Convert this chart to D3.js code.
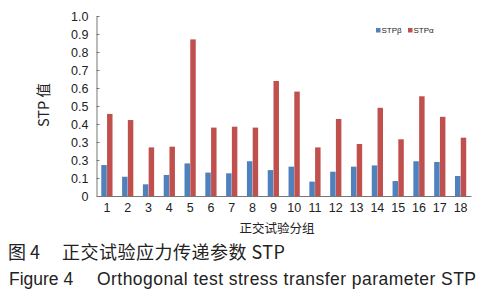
<!DOCTYPE html>
<html>
<head>
<meta charset="utf-8">
<script src="https://cdn.jsdelivr.net/npm/d3@7"></script>
<style>
  body { margin: 0; background: #fff; }
  svg text { font-family: "Liberation Sans", Arial, sans-serif; fill: #222; }
  .cjk { font-family: "Noto Sans CJK SC", sans-serif; }
</style>
</head>
<body>
<svg id="chart" width="500" height="300"></svg>
<script>
const groups = ["1","2","3","4","5","6","7","8","9","10","11","12","13","14","15","16","17","18"];
const stpBeta  = [0.172,0.107,0.065,0.117,0.181,0.130,0.126,0.193,0.144,0.163,0.080,0.135,0.163,0.170,0.083,0.193,0.189,0.111];
const stpAlpha = [0.456,0.422,0.270,0.274,0.870,0.380,0.385,0.380,0.639,0.580,0.270,0.428,0.289,0.490,0.315,0.554,0.440,0.324];
const yTicks = [0,0.1,0.2,0.3,0.4,0.5,0.6,0.7,0.8,0.9,1.0];
// the original figure prints "0.3" at the 0.2 position
const yTickLabels = ["0","0.1","0.3","0.3","0.4","0.5","0.6","0.7","0.8","0.9","1.0"];
const seriesNames = ["STPβ","STPα"];
const colors = { "STPβ": "#4f81bd", "STPα": "#c0504d" };

const svg = d3.select("#chart");
const mLeft = 96.5, mRight = 471, mTop = 16, mBottom = 196;

const x = d3.scaleBand().domain(groups).range([mLeft, mRight]).paddingInner(0).paddingOuter(0);
const x1 = d3.scaleBand().domain(seriesNames).range([4.5, x.bandwidth() - 4.5]).padding(0.05);
const y = d3.scaleLinear().domain([0, 1]).range([mBottom, mTop]);

const data = groups.map((g, i) => ({ group: g, "STPβ": stpBeta[i], "STPα": stpAlpha[i] }));

// bars
svg.append("g")
  .selectAll("g")
  .data(data)
  .join("g")
  .attr("transform", d => `translate(${x(d.group)},0)`)
  .selectAll("rect")
  .data(d => seriesNames.map(k => ({ key: k, value: d[k] })))
  .join("rect")
  .attr("x", d => x1(d.key))
  .attr("width", x1.bandwidth())
  .attr("y", d => y(d.value))
  .attr("height", d => y(0) - y(d.value))
  .attr("fill", d => colors[d.key]);

// y axis, ticks point inward like the original
const yAxis = d3.axisLeft(y)
  .tickValues(yTicks)
  .tickSizeInner(-3)
  .tickSizeOuter(0)
  .tickPadding(8)
  .tickFormat((d, i) => yTickLabels[i]);
const gy = svg.append("g").attr("transform", `translate(${mLeft},0)`).call(yAxis);
gy.select(".domain").attr("stroke", "#777");
gy.selectAll(".tick line").attr("stroke", "#777");
gy.selectAll("text").style("font-size", "12.5px").attr("fill", "#222");

// x axis
const xAxis = d3.axisBottom(x).tickSize(0).tickPadding(7);
const gx = svg.append("g").attr("transform", `translate(0,${mBottom})`).call(xAxis);
gx.select(".domain").attr("stroke", "#777");
gx.selectAll("text").style("font-size", "12.5px").attr("fill", "#222");

// axis titles
svg.append("text")
  .attr("class", "cjk")
  .attr("transform", "translate(49,105) rotate(-90)")
  .attr("text-anchor", "middle")
  .style("font-size", "14.5px")
  .text("STP 值");

svg.append("text")
  .attr("class", "cjk")
  .attr("x", 277).attr("y", 233)
  .attr("text-anchor", "middle")
  .style("font-size", "12.5px")
  .attr("fill", "#555")
  .text("正交试验分组");

// legend
const legend = svg.append("g").attr("transform", "translate(376,30.5)");
const items = legend.selectAll("g")
  .data(seriesNames)
  .join("g")
  .attr("transform", (d, i) => `translate(${i * 32},0)`);
items.append("rect")
  .attr("x", 0).attr("y", -2.5)
  .attr("width", 4.5).attr("height", 4.5)
  .attr("fill", d => colors[d]);
items.append("text")
  .attr("x", 5.5).attr("y", 2.8)
  .style("font-size", "8px")
  .attr("fill", "#333")
  .text(d => d);

// captions
svg.append("text")
  .attr("class", "cjk")
  .attr("x", 8).attr("y", 259)
  .style("font-size", "18px")
  .text("图 4");
svg.append("text")
  .attr("class", "cjk")
  .attr("x", 62).attr("y", 259)
  .style("font-size", "18px")
  .attr("textLength", 223)
  .text("正交试验应力传递参数 STP");

svg.append("text")
  .attr("x", 9).attr("y", 285)
  .style("font-size", "17.5px")
  .text("Figure 4");
svg.append("text")
  .attr("x", 97).attr("y", 285)
  .style("font-size", "17.5px")
  .attr("textLength", 379)
  .text("Orthogonal test stress transfer parameter STP");
</script>
</body>
</html>
